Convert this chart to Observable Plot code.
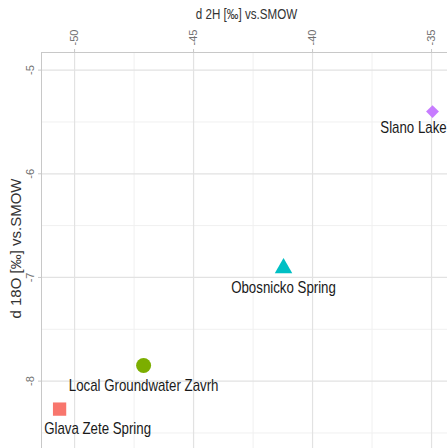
<!DOCTYPE html>
<html>
<head>
<meta charset="utf-8">
<script src="https://cdn.jsdelivr.net/npm/d3@7"></script>
<script src="https://cdn.jsdelivr.net/npm/@observablehq/plot@0.6"></script>
<style>
  html, body { margin: 0; padding: 0; background: #fff; }
  svg { display: block; }
</style>
</head>
<body>
<div id="chart"></div>
<script>
// ---- data ----
const sites = ["Glava Zete Spring", "Local Groundwater Zavrh", "Obosnicko Spring", "Slano Lake"];
const d2H = [-50.63, -47.1, -41.22, -34.96];
const d18O = [-8.27, -7.85, -6.91, -5.40];
const symbols = ["square", "circle", "triangle", "diamond2"];
const colors = ["#F8766D", "#7CAE00", "#00BFC4", "#C77CFF"];
const xTicks = [-50, -45, -40, -35];
const xMinor = [-47.5, -42.5, -37.5];
const yTicks = [-5, -6, -7, -8];
const yMinor = [-5.5, -6.5, -7.5, -8.5];
const xTitle = "d 2H [‰] vs.SMOW";
const yTitle = "d 18O [‰] vs.SMOW";

// styling (label nudges and symbol sizes in pixels)
const labelDx = {"Glava Zete Spring": 38, "Slano Lake": -19};
const labelDy = {"Slano Lake": 21};
const symbolR = {square: 7.5, circle: 7.5, triangle: 6.5, diamond2: 5.8};

const rows = sites.map((s, i) => ({site: s, x: d2H[i], y: d18O[i], symbol: symbols[i]}));

const font = "'Liberation Sans', Arial, sans-serif";

const chart = Plot.plot({
  width: 447,
  height: 448,
  marginLeft: 41,
  marginTop: 52,
  marginRight: 0,
  marginBottom: 0,
  style: {fontFamily: font, background: "#fff"},
  x: {domain: [-51.39, -34.33], axis: null},
  y: {domain: [-8.65, -4.83], axis: null},
  color: {domain: sites, range: colors},
  symbol: {domain: symbols, range: symbols},
  marks: [
    Plot.gridX(xMinor, {stroke: "#f0f0f0", strokeOpacity: 1, strokeWidth: 1}),
    Plot.gridY(yMinor, {stroke: "#f0f0f0", strokeOpacity: 1, strokeWidth: 1}),
    Plot.gridX(xTicks, {stroke: "#e2e2e2", strokeOpacity: 1, strokeWidth: 1.2}),
    Plot.gridY(yTicks, {stroke: "#e2e2e2", strokeOpacity: 1, strokeWidth: 1.2}),
    Plot.frame({anchor: "top", stroke: "#c8c8c8"}),
    Plot.frame({anchor: "left", stroke: "#c8c8c8"}),
    Plot.axisX({anchor: "top", ticks: xTicks, tickSize: 4, tickFormat: () => "", label: null, stroke: "#c8c8c8"}),
    Plot.axisY({anchor: "left", ticks: yTicks, tickSize: 3, tickFormat: () => "", label: null, stroke: "#c8c8c8"}),
    Plot.text(xTicks, {x: d => d, frameAnchor: "top", dy: -7, rotate: -90, textAnchor: "start", lineAnchor: "middle",
      text: d => String(d), fontSize: 11, fill: "#707070"}),
    Plot.text(yTicks, {y: d => d, frameAnchor: "left", dx: -11, rotate: -90, textAnchor: "middle", lineAnchor: "middle",
      text: d => String(d), fontSize: 11, fill: "#707070"}),
    Plot.text([xTitle], {frameAnchor: "top", dy: -34, dx: 2, textAnchor: "middle", lineAnchor: "middle",
      fontSize: 14, fill: "#333"}),
    Plot.text([yTitle], {frameAnchor: "left", dx: -25, dy: -2, rotate: -90, textAnchor: "middle", lineAnchor: "middle",
      fontSize: 15, fill: "#333"}),
    ...rows.map(r => Plot.dot([r], {x: "x", y: "y", symbol: "symbol", fill: "site", r: symbolR[r.symbol], stroke: "none"})),
    ...rows.map(r => Plot.text([r], {x: "x", y: "y", text: "site",
      dy: labelDy[r.site] ?? 25, dx: labelDx[r.site] || 0,
      textAnchor: "middle", lineAnchor: "middle", fontSize: 16, fill: "#1a1a1a"}))
  ]
});
// condense the label texts horizontally (no narrow font available)
const narrowTexts = new Set([...sites, xTitle]);
chart.querySelectorAll("text").forEach(t => {
  if (!narrowTexts.has(t.textContent)) return;
  const x = +t.getAttribute("x") || 0, y = +t.getAttribute("y") || 0;
  const tr = t.getAttribute("transform") || "";
  t.removeAttribute("x");
  t.removeAttribute("y");
  t.setAttribute("transform", `translate(${x},${y}) ${tr} scale(0.83,1)`);
});
document.getElementById("chart").appendChild(chart);
</script>
</body>
</html>
